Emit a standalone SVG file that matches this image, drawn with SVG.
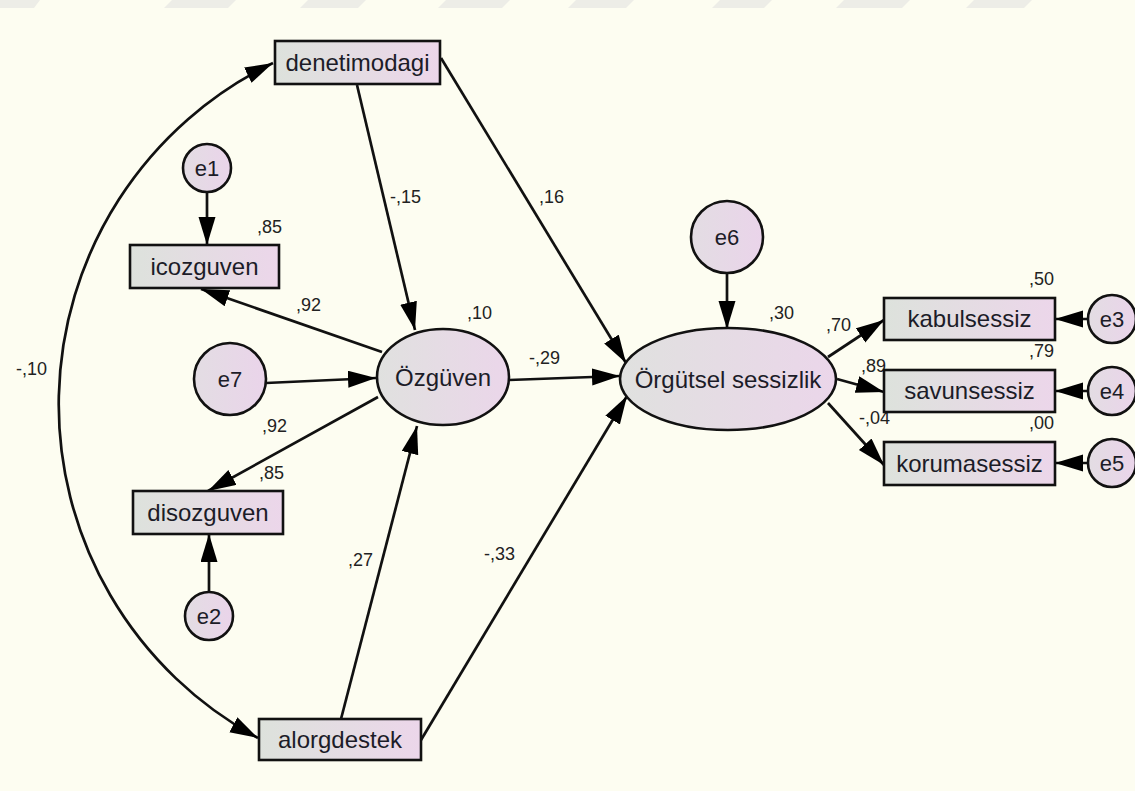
<svg xmlns="http://www.w3.org/2000/svg" width="1135" height="791" viewBox="0 0 1135 791">
<style>
.bg{fill:#fdfdf1}
.wm{fill:#ededE7}
.box{fill:url(#gb);stroke:#111;stroke-width:2.6}
.ell{fill:url(#ge);stroke:#111;stroke-width:2.6}
.err{fill:url(#gc);stroke:#111;stroke-width:2.6}
.nt{font-family:"Liberation Sans",Arial,sans-serif;font-size:24px;fill:#1c1c28;text-anchor:middle}
.et{font-family:"Liberation Sans",Arial,sans-serif;font-size:22px;fill:#1c1c28;text-anchor:middle}
.lb{font-family:"Liberation Sans",Arial,sans-serif;font-size:18px;fill:#222}
.cn{fill:none;stroke:#111;stroke-width:2.7}
</style>
<defs>
<linearGradient id="gb" x1="0" y1="0" x2="1" y2="0"><stop offset="0" stop-color="#dde2dc"/><stop offset="1" stop-color="#ecd6ea"/></linearGradient>
<linearGradient id="ge" x1="0" y1="0" x2="1" y2="0"><stop offset="0" stop-color="#e0e1df"/><stop offset="1" stop-color="#ebd6ea"/></linearGradient>
<linearGradient id="gc" x1="0" y1="0" x2="1" y2="0"><stop offset="0" stop-color="#e3dde3"/><stop offset="1" stop-color="#ead4ea"/></linearGradient>
<marker id="ah" markerUnits="userSpaceOnUse" markerWidth="28" markerHeight="18" refX="28" refY="8.5" orient="auto-start-reverse"><path d="M0,0 L28,8.5 L0,17 z" fill="#000"/></marker>
</defs>
<rect class="bg" x="0" y="0" width="1135" height="791"/>
<g id="watermark">
<polygon class="wm" points="0,0 40,0 34,8 0,8"/>
<polygon class="wm" points="172,0 236,0 228,8 164,8"/>
<polygon class="wm" points="308,0 366,0 358,8 300,8"/>
<polygon class="wm" points="446,0 510,0 502,8 438,8"/>
<polygon class="wm" points="576,0 634,0 626,8 568,8"/>
<polygon class="wm" points="720,0 772,0 764,8 712,8"/>
<polygon class="wm" points="844,0 910,0 902,8 836,8"/>
<polygon class="wm" points="974,0 1032,0 1024,8 966,8"/>
</g>
<g id="connectors">
<path class="cn" d="M273,63 A379,379 0 0 0 258,738" marker-start="url(#ah)" marker-end="url(#ah)"/>
<line class="cn" x1="357" y1="85" x2="415" y2="330" marker-end="url(#ah)"/>
<line class="cn" x1="441" y1="58" x2="626" y2="363" marker-end="url(#ah)"/>
<line class="cn" x1="207" y1="192" x2="207" y2="245" marker-end="url(#ah)"/>
<line class="cn" x1="382" y1="352" x2="201" y2="289" marker-end="url(#ah)"/>
<line class="cn" x1="266" y1="383" x2="376" y2="378" marker-end="url(#ah)"/>
<line class="cn" x1="378" y1="397" x2="208" y2="491" marker-end="url(#ah)"/>
<line class="cn" x1="209" y1="592" x2="209" y2="534" marker-end="url(#ah)"/>
<line class="cn" x1="341" y1="719" x2="417" y2="426" marker-end="url(#ah)"/>
<line class="cn" x1="421" y1="740" x2="627" y2="396" marker-end="url(#ah)"/>
<line class="cn" x1="509" y1="380" x2="620" y2="376" marker-end="url(#ah)"/>
<line class="cn" x1="727" y1="273" x2="727" y2="329" marker-end="url(#ah)"/>
<line class="cn" x1="828" y1="357" x2="884" y2="320" marker-end="url(#ah)"/>
<line class="cn" x1="837" y1="379" x2="884" y2="392" marker-end="url(#ah)"/>
<line class="cn" x1="828" y1="403" x2="884" y2="465" marker-end="url(#ah)"/>
<line class="cn" x1="1088" y1="319" x2="1055" y2="319" marker-end="url(#ah)"/>
<line class="cn" x1="1088" y1="391" x2="1055" y2="391" marker-end="url(#ah)"/>
<line class="cn" x1="1088" y1="463" x2="1055" y2="463" marker-end="url(#ah)"/>
</g>
<g id="labels">
<text class="lb" x="16" y="375">-,10</text>
<text class="lb" x="390" y="203">-,15</text>
<text class="lb" x="539" y="203">,16</text>
<text class="lb" x="257" y="233">,85</text>
<text class="lb" x="296" y="311">,92</text>
<text class="lb" x="467" y="319">,10</text>
<text class="lb" x="262" y="432">,92</text>
<text class="lb" x="259" y="479">,85</text>
<text class="lb" x="348" y="566">,27</text>
<text class="lb" x="484" y="560">-,33</text>
<text class="lb" x="529" y="364">-,29</text>
<text class="lb" x="769" y="319">,30</text>
<text class="lb" x="826" y="331">,70</text>
<text class="lb" x="861" y="372">,89</text>
<text class="lb" x="859" y="424">-,04</text>
<text class="lb" x="1029" y="285">,50</text>
<text class="lb" x="1029" y="357">,79</text>
<text class="lb" x="1029" y="429">,00</text>
</g>
<g id="denetimodagi"><rect class="box" x="275" y="41" width="165" height="43"/><text class="nt" x="357.5" y="71">denetimodagi</text></g>
<g id="icozguven"><rect class="box" x="130" y="245" width="149" height="43"/><text class="nt" x="204.5" y="275">icozguven</text></g>
<g id="disozguven"><rect class="box" x="133" y="491" width="150" height="43"/><text class="nt" x="208" y="521">disozguven</text></g>
<g id="alorgdestek"><rect class="box" x="259" y="719" width="162" height="41"/><text class="nt" x="340" y="748">alorgdestek</text></g>
<g id="kabulsessiz"><rect class="box" x="884" y="298" width="171" height="42"/><text class="nt" x="969.5" y="327">kabulsessiz</text></g>
<g id="savunsessiz"><rect class="box" x="884" y="370" width="171" height="42"/><text class="nt" x="969.5" y="399">savunsessiz</text></g>
<g id="korumasessiz"><rect class="box" x="884" y="442" width="171" height="43"/><text class="nt" x="969.5" y="472">korumasessiz</text></g>
<g id="ozguven"><ellipse class="ell" cx="443" cy="377" rx="66" ry="48"/><text class="nt" x="443" y="386">Özgüven</text></g>
<g id="orgutsel"><ellipse class="ell" cx="728" cy="379" rx="108" ry="51"/><text class="nt" x="728" y="388">Örgütsel sessizlik</text></g>
<g id="e1"><circle class="err" cx="207" cy="168" r="24"/><text class="et" x="207" y="176">e1</text></g>
<g id="e2"><circle class="err" cx="209" cy="616" r="24"/><text class="et" x="209" y="624">e2</text></g>
<g id="e3"><circle class="err" cx="1112" cy="319" r="24"/><text class="et" x="1112" y="327">e3</text></g>
<g id="e4"><circle class="err" cx="1112" cy="391" r="24"/><text class="et" x="1112" y="399">e4</text></g>
<g id="e5"><circle class="err" cx="1112" cy="463" r="24"/><text class="et" x="1112" y="471">e5</text></g>
<g id="e6"><circle class="err" cx="727" cy="237" r="36"/><text class="et" x="727" y="245">e6</text></g>
<g id="e7"><circle class="err" cx="230" cy="379" r="36"/><text class="et" x="230" y="387">e7</text></g>
</svg>
